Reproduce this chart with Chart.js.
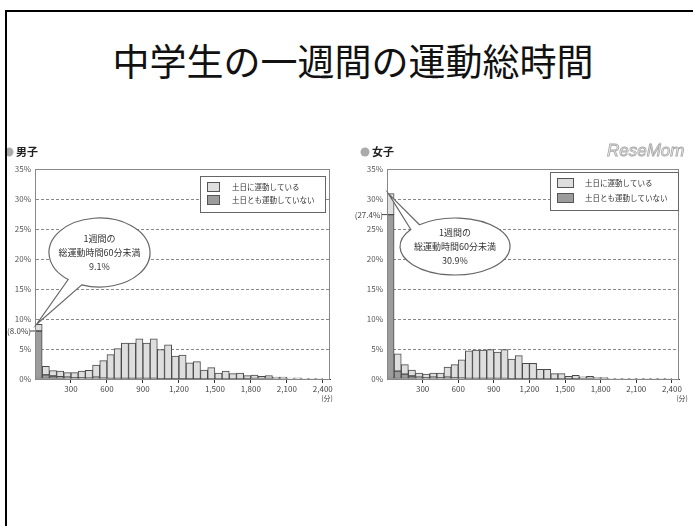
<!DOCTYPE html>
<html lang="ja">
<head>
<meta charset="utf-8">
<title>中学生の一週間の運動総時間</title>
<script src="https://cdn.jsdelivr.net/npm/chart.js@4.4.1/dist/chart.umd.min.js"></script>
<style>
  html, body { margin: 0; padding: 0; background: #fff; }
  body { width: 693px; height: 526px; position: relative; overflow: hidden; font-family: "Noto Sans CJK JP", sans-serif; }
  #frame { position: absolute; left: 5px; top: 10px; width: 720px; height: 560px; border-left: 2px solid #000; border-top: 2px solid #000; }
  h1 { position: absolute; left: 0; top: 42px; width: 706px; margin: 0; text-align: center; font-weight: normal; font-size: 37px; line-height: 1; color: #111; }
  canvas { position: absolute; top: 140px; filter: blur(0.35px); }
  #boysChart { left: 7px; }
  #girlsChart { left: 345px; }
</style>
</head>
<body>
<div id="frame"></div>
<h1>中学生の一週間の運動総時間</h1>
<canvas id="boysChart" width="338" height="265"></canvas>
<canvas id="girlsChart" width="348" height="265"></canvas>
<script>
// 60-minute bins (start of each bin, minutes per week)
const binStarts = [0, 60, 120, 180, 240, 300, 360, 420, 480, 540,
  600, 660, 720, 780, 840, 900, 960, 1020, 1080, 1140,
  1200, 1260, 1320, 1380, 1440, 1500, 1560, 1620, 1680, 1740,
  1800, 1860, 1920, 1980, 2040, 2100, 2160, 2220, 2280, 2340];
const xTickValues = [300, 600, 900, 1200, 1500, 1800, 2100, 2400];
const yTickValues = [0, 5, 10, 15, 20, 25, 30, 35];
const seriesNames = ['土日に運動している', '土日とも運動していない'];

// 男子 (%)
const boysActive = [1.1, 1.4, 0.9, 0.9, 0.75, 0.85, 1.1, 1.3, 2.0, 2.9,
  3.95, 4.95, 5.9, 5.9, 6.6, 5.9, 6.6, 4.85, 5.65, 3.75,
  3.95, 2.65, 2.85, 1.47, 1.87, 0.98, 1.28, 0.88, 0.98, 0.54,
  0.65, 0.45, 0.55, 0.3, 0.3, 0.15, 0.2, 0.1, 0.05, 0.05];
const boysInactive = [8.0, 0.7, 0.5, 0.4, 0.3, 0.2, 0.2, 0.15, 0.3, 0.15,
  0.1, 0.1, 0.1, 0.1, 0.1, 0.1, 0.1, 0.05, 0.05, 0.05,
  0.05, 0.05, 0.05, 0.03, 0.03, 0.02, 0.02, 0.02, 0.02, 0.01,
  0, 0, 0, 0, 0, 0, 0, 0, 0, 0];

// 女子 (%)
const girlsActive = [3.5, 2.9, 1.6, 1.0, 0.7, 0.6, 0.7, 0.8, 1.7, 2.2,
  3.05, 4.6, 4.7, 4.7, 4.8, 4.4, 4.82, 3.25, 3.85, 2.55,
  2.56, 1.57, 1.57, 0.88, 0.88, 0.44, 0.59, 0.35, 0.45, 0.25,
  0.25, 0.1, 0.1, 0.05, 0.05, 0.05, 0.03, 0.02, 0.02, 0.02];
const girlsInactive = [27.4, 1.3, 0.8, 0.5, 0.3, 0.2, 0.3, 0.2, 0.3, 0.2,
  0.15, 0.1, 0.1, 0.1, 0.1, 0.1, 0.08, 0.05, 0.05, 0.05,
  0.04, 0.03, 0.03, 0.02, 0.02, 0.01, 0.01, 0, 0, 0,
  0, 0, 0, 0, 0, 0, 0, 0, 0, 0];

const LIGHT = '#dedede';
const DARK = '#9c9c9c';
const FONT = '"Noto Sans CJK JP", sans-serif';

function toPoints(vals) {
  return binStarts.map((s, i) => ({ x: s + 30, y: vals[i] }));
}

// headings, legend box, speech bubble and side label
const decorPlugin = {
  id: 'decor',
  afterDraw(chart, args, o) {
    const { ctx, chartArea: a, scales: { x, y } } = chart;
    ctx.save();

    // plot frame
    ctx.strokeStyle = '#888';
    ctx.lineWidth = 1;
    ctx.strokeRect(a.left + 0.5, a.top + 0.5, a.right - a.left - 1, a.bottom - a.top);

    // heading
    ctx.fillStyle = '#aaa';
    ctx.beginPath();
    ctx.arc(o.headX, 12, 4.5, 0, Math.PI * 2);
    ctx.fill();
    ctx.fillStyle = '#222';
    ctx.font = 'bold 11px ' + FONT;
    ctx.textBaseline = 'middle';
    ctx.textAlign = 'left';
    ctx.fillText(o.heading, o.headX + 7, 12);

    if (o.watermark) {
      ctx.font = 'italic 17px "Liberation Sans", sans-serif';
      ctx.fillStyle = '#fff';
      ctx.strokeStyle = '#aaa';
      ctx.lineWidth = 0.9;
      ctx.fillText(o.watermark, o.watermarkX, 11);
      ctx.strokeText(o.watermark, o.watermarkX, 11);
    }

    // legend
    const lg = o.legend;
    ctx.fillStyle = '#fff';
    ctx.fillRect(lg.x, lg.y, lg.w, lg.h);
    ctx.strokeStyle = '#666';
    ctx.lineWidth = 1;
    ctx.strokeRect(lg.x + 0.5, lg.y + 0.5, lg.w, lg.h);
    ctx.font = '7.5px ' + FONT;
    [LIGHT, DARK].forEach((c, i) => {
      const ry = lg.y + lg.rowTop + i * lg.rowGap;
      ctx.fillStyle = c;
      ctx.fillRect(lg.x + 7, ry - 4.5, lg.sw, 9);
      ctx.strokeStyle = '#555';
      ctx.strokeRect(lg.x + 7.5, ry - 4.5, lg.sw, 9);
      ctx.fillStyle = '#333';
      ctx.fillText(seriesNames[i], lg.x + lg.tx, ry);
    });

    // side label for the first bin's lower part
    const inactive0 = chart.data.datasets[0].data[0].y;
    const total0 = inactive0 + chart.data.datasets[1].data[0].y;
    const sy = y.getPixelForValue(inactive0);
    ctx.strokeStyle = '#444';
    ctx.beginPath();
    ctx.moveTo(a.left - 5, sy);
    ctx.lineTo(a.left, sy);
    ctx.stroke();
    ctx.fillStyle = '#444';
    ctx.font = '8px ' + FONT;
    ctx.textAlign = 'right';
    ctx.fillText('(' + inactive0.toFixed(1) + '%)', a.left - 4, sy);

    // speech bubble pointing at the first bar
    const b = o.bubble;
    const tipX = x.getPixelForValue(12);
    const tipY = y.getPixelForValue(total0);
    ctx.beginPath();
    ctx.ellipse(b.cx, b.cy, b.rx, b.ry, 0, b.a2, b.a1 + Math.PI * 2);
    ctx.lineTo(tipX, tipY);
    ctx.closePath();
    ctx.fillStyle = '#fff';
    ctx.fill();
    ctx.strokeStyle = '#666';
    ctx.lineWidth = 1.2;
    ctx.stroke();
    ctx.fillStyle = '#333';
    ctx.font = '9px ' + FONT;
    ctx.textAlign = 'center';
    ['1週間の', '総運動時間60分未満', total0.toFixed(1) + '%'].forEach((t, i) => {
      ctx.fillText(t, b.cx, b.cy - 14 + i * 14);
    });

    // unit
    ctx.font = '7px ' + FONT;
    ctx.fillStyle = '#444';
    ctx.textAlign = 'center';
    ctx.fillText('(分)', o.unitX, 258);

    ctx.restore();
  }
};

function makeChart(id, active, inactive, axisWidth, padRight, decor) {
  return new Chart(document.getElementById(id), {
    type: 'bar',
    data: {
      datasets: [
        { label: seriesNames[1], data: toPoints(inactive), backgroundColor: DARK },
        { label: seriesNames[0], data: toPoints(active), backgroundColor: LIGHT }
      ]
    },
    options: {
      responsive: false,
      animation: false,
      layout: { padding: { top: 29, right: padRight, left: 0, bottom: 0 } },
      datasets: {
        bar: {
          barPercentage: 1,
          categoryPercentage: 1,
          borderWidth: 1,
          borderColor: '#4a4a4a',
          borderSkipped: false
        }
      },
      scales: {
        x: {
          type: 'linear',
          min: 0,
          max: 2460,
          stacked: true,
          offset: false,
          afterBuildTicks: s => { s.ticks = xTickValues.map(v => ({ value: v })); },
          afterFit: s => { s.height = 26; },
          grid: { display: true, drawOnChartArea: false, drawTicks: true, tickLength: 4, color: '#333', offset: false },
          border: { display: true, color: '#333', width: 1 },
          ticks: {
            padding: 1,
            maxRotation: 0,
            autoSkip: false,
            color: '#444',
            font: { family: FONT, size: 8 },
            callback: v => v.toLocaleString('en-US')
          }
        },
        y: {
          min: 0,
          max: 35,
          stacked: true,
          afterBuildTicks: s => { s.ticks = yTickValues.map(v => ({ value: v })); },
          afterFit: s => { s.width = axisWidth; },
          grid: { color: '#888', lineWidth: 1, drawTicks: false },
          border: { display: true, color: '#888', width: 1, dash: [3, 2] },
          ticks: {
            padding: 4,
            color: '#555',
            font: { family: FONT, size: 8 },
            callback: v => v + '%'
          }
        }
      },
      plugins: {
        legend: { display: false },
        tooltip: { enabled: false },
        decor: decor
      }
    },
    plugins: [decorPlugin]
  });
}

makeChart('boysChart', boysActive, boysInactive, 28, 15, {
  heading: '男子',
  headX: 2,
  legend: { x: 193, y: 36, w: 125, h: 36, rowTop: 11, rowGap: 13, sw: 12, tx: 32 },
  bubble: { cx: 92.5, cy: 112.5, rx: 50.5, ry: 34.5, a1: 1.93, a2: 2.24 },
  unitX: 320
});

makeChart('girlsChart', girlsActive, girlsInactive, 42, 14, {
  heading: '女子',
  headX: 20,
  watermark: 'ReseMom',
  watermarkX: 262,
  legend: { x: 205, y: 32, w: 128, h: 38, rowTop: 11, rowGap: 15, sw: 16, tx: 35 },
  bubble: { cx: 110, cy: 106.5, rx: 55, ry: 28.5, a1: 3.78, a2: 4.01 },
  unitX: 337
});
</script>
</body>
</html>
